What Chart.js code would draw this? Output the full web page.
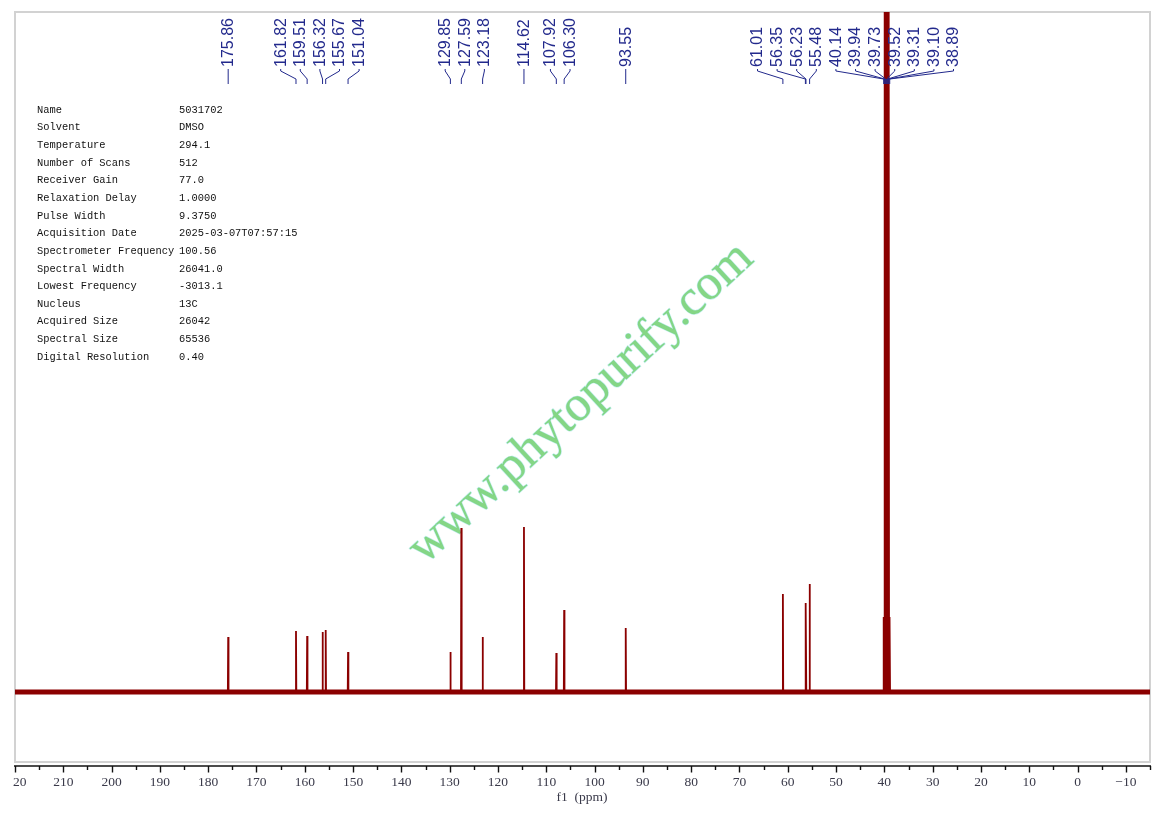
<!DOCTYPE html>
<html><head><meta charset="utf-8">
<script src="https://cdn.jsdelivr.net/npm/chart.js@4"></script>
<style>html,body{margin:0;padding:0;background:#fff;overflow:hidden}#wrap{width:1161px;height:814px;position:relative}</style>
</head><body><div id="wrap"><canvas id="c" width="1161" height="814"></canvas></div>
<script>
// ---- data ----
const peakPpm    = [175.86,161.82,159.51,156.32,155.67,151.04,129.85,127.59,123.18,114.62,107.92,106.30,93.55,61.01,56.35,56.23,55.48,40.14,39.94,39.73,39.52,39.31,39.10,38.89];
const peakHeight = [55,61,56,60,62,40,40,164,55,165,39,82,64,98,89,85,108,75,1000,1500,1800,1500,1000,75];
const peakLabels = ['175.86','161.82','159.51','156.32','155.67','151.04','129.85','127.59','123.18','114.62','107.92','106.30','93.55','61.01','56.35','56.23','55.48','40.14','39.94','39.73','39.52','39.31','39.10','38.89'];
const baselineRange = [220,-15];
const tickValues = [220,210,200,190,180,170,160,150,140,130,120,110,100,90,80,70,60,50,40,30,20,10,0,-10];
const tickLabels = ['20','210','200','190','180','170','160','150','140','130','120','110','100','90','80','70','60','50','40','30','20','10','0','\u221210'];
const minorTickValues = [215,205,195,185,175,165,155,145,135,125,115,105,95,85,75,65,55,45,35,25,15,5,-5,-15];
const axisTitle = 'f1  (ppm)';
const paramNames  = ['Name','Solvent','Temperature','Number of Scans','Receiver Gain','Relaxation Delay','Pulse Width','Acquisition Date','Spectrometer Frequency','Spectral Width','Lowest Frequency','Nucleus','Acquired Size','Spectral Size','Digital Resolution'];
const paramValues = ['5031702','DMSO','294.1','512','77.0','1.0000','9.3750','2025-03-07T07:57:15','100.56','26041.0','-3013.1','13C','26042','65536','0.40'];
const watermark = 'www.phytopurify.com';

// ---- build spike series from the arrays ----
const spikeData = [];
peakPpm.forEach((p,i)=>{
  spikeData.push({x:p+0.07,y:0},{x:p,y:peakHeight[i]},{x:p-0.07,y:0});
});
const baseData = baselineRange.map(v=>({x:v,y:0}));

const RED = '#8b0000';
const BLUE = '#22298c';

const decor = {
  id:'decor',
  beforeDraw(chart){
    const ctx=chart.ctx;
    ctx.save(); ctx.fillStyle='#fff'; ctx.fillRect(0,0,chart.width,chart.height); ctx.restore();
  },
  beforeDatasetsDraw(chart){
    const ctx=chart.ctx, a=chart.chartArea;
    ctx.save();
    ctx.strokeStyle='#d2d2d2'; ctx.lineWidth=2;
    ctx.strokeRect(a.left,a.top,a.right-a.left,a.bottom-a.top);
    ctx.restore();
    ctx.save();
    ctx.translate(590,413);
    ctx.rotate(-42.7*Math.PI/180);
    ctx.font='50px "Liberation Serif", serif';
    ctx.textAlign='center'; ctx.textBaseline='alphabetic';
    ctx.strokeStyle='rgba(150,225,225,0.6)'; ctx.lineWidth=1.2;
    ctx.strokeText(watermark,0,0);
    ctx.fillStyle='rgba(120,210,120,0.9)';
    ctx.fillText(watermark,0,0);
    ctx.restore();
  },
  afterDraw(chart){
    const ctx=chart.ctx, a=chart.chartArea, xs=chart.scales.x;
    const axisY=a.bottom+4;
    ctx.save();
    ctx.strokeStyle='#111'; ctx.lineWidth=1.6;
    ctx.beginPath(); ctx.moveTo(a.left-1,axisY); ctx.lineTo(a.right+1,axisY); ctx.stroke();
    ctx.lineWidth=1.4;
    tickValues.forEach(v=>{const x=Math.round(xs.getPixelForValue(v))+0.5; ctx.beginPath(); ctx.moveTo(x,axisY); ctx.lineTo(x,axisY+6.5); ctx.stroke();});
    minorTickValues.forEach(v=>{const x=Math.round(xs.getPixelForValue(v))+0.5; ctx.beginPath(); ctx.moveTo(x,axisY); ctx.lineTo(x,axisY+4); ctx.stroke();});
    ctx.fillStyle='#3a3a4a'; ctx.font='13.5px "Liberation Serif", serif'; ctx.textBaseline='middle';
    tickValues.forEach((v,i)=>{
      const x=xs.getPixelForValue(v);
      if(i===0){ctx.textAlign='left'; ctx.fillText(tickLabels[i],x-2,axisY+16);}
      else {ctx.textAlign='center'; ctx.fillText(tickLabels[i],x,axisY+16);}
    });
    ctx.textAlign='center';
    ctx.fillText(axisTitle,582,797);
    ctx.fillStyle='#111'; ctx.font='10.4px "Liberation Mono", monospace'; ctx.textAlign='left';
    paramNames.forEach((n,i)=>{
      const y=110+i*17.64;
      ctx.fillText(n,37,y); ctx.fillText(paramValues[i],179,y);
    });
    const px=peakPpm.map(p=>xs.getPixelForValue(p));
    const gap=19.6;
    let clusters=px.map((p,i)=>({idx:[i],center:p}));
    const pos=c=>c.idx.map((_,k)=>c.center+(k-(c.idx.length-1)/2)*gap);
    let changed=true;
    while(changed){
      changed=false;
      for(let i=0;i<clusters.length-1;i++){
        const A=pos(clusters[i]),B=pos(clusters[i+1]);
        if(B[0]-A[A.length-1]<gap-0.01){
          const idx=clusters[i].idx.concat(clusters[i+1].idx);
          const center=idx.reduce((s,j)=>s+px[j],0)/idx.length;
          clusters.splice(i,2,{idx,center});
          changed=true;break;
        }
      }
    }
    const lx=[];
    clusters.forEach(c=>{const P=pos(c); c.idx.forEach((j,k)=>lx[j]=P[k]);});
    ctx.fillStyle=BLUE; ctx.strokeStyle=BLUE; ctx.lineWidth=1;
    ctx.font='16px "Liberation Sans", Arial, sans-serif';
    peakLabels.forEach((t,i)=>{
      ctx.save(); ctx.translate(lx[i],67); ctx.rotate(-Math.PI/2);
      ctx.textAlign='left'; ctx.textBaseline='middle';
      ctx.fillText(t,0,0.5); ctx.restore();
      ctx.beginPath(); ctx.moveTo(lx[i],69); ctx.lineTo(lx[i],71); ctx.lineTo(px[i],79); ctx.lineTo(px[i],84); ctx.stroke();
    });
    ctx.restore();
  }
};

new Chart(document.getElementById('c'),{
  type:'line',
  data:{datasets:[
    {data:baseData,borderColor:RED,borderWidth:5,pointRadius:0,tension:0},
    {data:spikeData,borderColor:RED,borderWidth:1.8,pointRadius:0,tension:0}
  ]},
  options:{
    responsive:false,animation:false,devicePixelRatio:1,
    layout:{padding:{left:15,right:11,top:12,bottom:52}},
    plugins:{legend:{display:false},tooltip:{enabled:false}},
    scales:{
      x:{type:'linear',reverse:true,min:-15,max:220,display:false},
      y:{type:'linear',min:-70,max:680,display:false}
    }
  },
  plugins:[decor]
});
</script></body></html>
